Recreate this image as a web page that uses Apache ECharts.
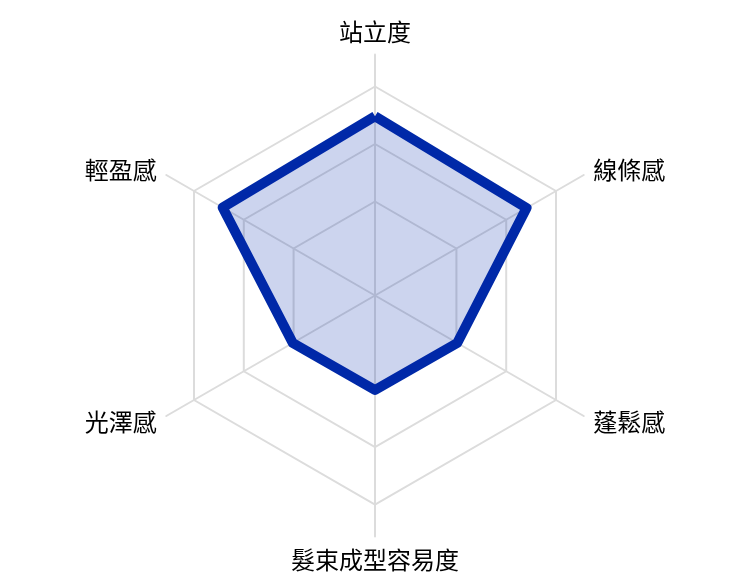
<!DOCTYPE html>
<html>
<head>
<meta charset="utf-8">
<script src="https://cdn.jsdelivr.net/npm/echarts@6/dist/echarts.min.js"></script>
<style>
  html, body { margin: 0; padding: 0; background: #fff; }
  #chart { width: 750px; height: 586px; }
</style>
</head>
<body>
<div id="chart"></div>
<script>
// 指標（從頂部開始，逆時針）
var indicatorNames = ['站立度', '輕盈感', '光澤感', '髮束成型容易度', '蓬鬆感', '線條感'];
var indicatorMax = 100;
var scoreValues = [74.4, 73, 39.4, 39.2, 39.4, 72.6];
// 網格圈的半徑（像素）
var ringRadii = [94, 151.5, 209];

var center = [375, 295.5];
var outerRadius = 241;

var indicators = indicatorNames.map(function (n) {
  return { name: n, min: 0, max: indicatorMax };
});

var radars = [{
  center: center,
  radius: outerRadius,
  startAngle: 90,
  shape: 'polygon',
  indicator: indicators,
  axisName: {
    color: '#000',
    fontSize: 24,
    fontFamily: 'Noto Sans CJK TC'
  },
  nameGap: 11,
  axisLine: { lineStyle: { color: '#dcdcdc', width: 2 } },
  splitLine: { show: false },
  splitArea: { show: false }
}];

// 每個網格圈用一個只畫外框的 radar
ringRadii.forEach(function (r) {
  radars.push({
    center: center,
    radius: r,
    startAngle: 90,
    shape: 'polygon',
    splitNumber: 1,
    indicator: indicatorNames.map(function () { return { name: '', min: 0, max: indicatorMax }; }),
    axisName: { show: false },
    axisLine: { show: false },
    splitLine: { lineStyle: { color: '#dcdcdc', width: 2 } },
    splitArea: { show: false }
  });
});

var chart = echarts.init(document.getElementById('chart'));
chart.setOption({
  backgroundColor: '#fff',
  animation: false,
  radar: radars,
  series: [{
    type: 'radar',
    radarIndex: 0,
    symbol: 'none',
    lineStyle: { color: '#0029a8', width: 10, join: 'round' },
    areaStyle: { color: '#0029a8', opacity: 0.2 },
    data: [{ value: scoreValues }]
  }]
});
</script>
</body>
</html>
